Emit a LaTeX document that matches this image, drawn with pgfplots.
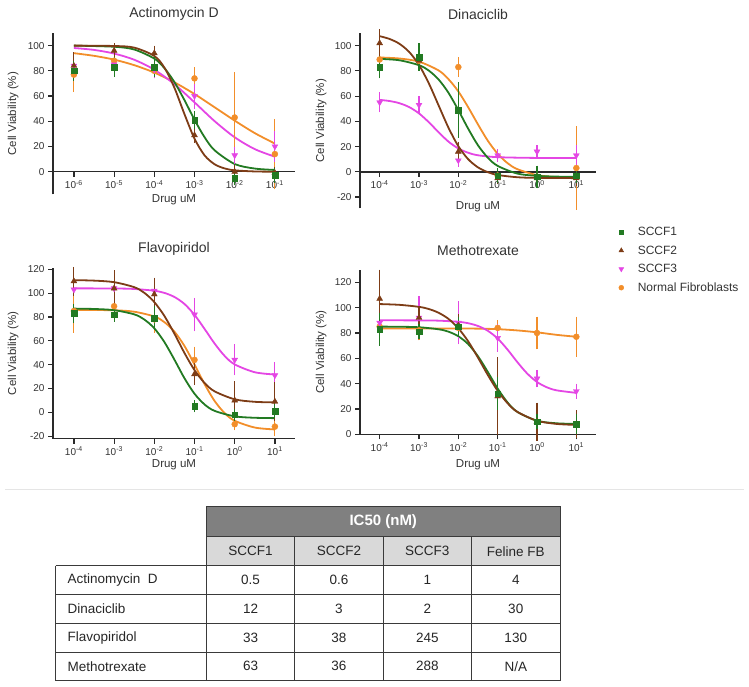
\documentclass[border=0pt]{standalone}
\usepackage{pgfplots}
\pgfplotsset{compat=1.18}
\usepackage{fontspec}
\setmainfont{Liberation Sans}
\setsansfont{Liberation Sans}
\definecolor{txt}{HTML}{333333}
\definecolor{axc}{HTML}{2A2A2A}
\definecolor{cA}{RGB}{34,122,34}
\definecolor{cB}{RGB}{125,60,22}
\definecolor{cC}{RGB}{228,70,228}
\definecolor{cD}{RGB}{242,142,42}
\definecolor{hdrdark}{HTML}{808080}
\definecolor{hdrlight}{HTML}{D9D9D9}
\definecolor{tline}{HTML}{3A3A3A}
\pgfkeys{/pgf/number format/assume math mode=true}
\pgfplotsset{
  every axis/.append style={
    scale only axis, clip=false,
    xminorticks=false,
    axis line style={line width=1.4pt, draw=axc},
    tick style={line width=1.2pt, draw=axc},
    major tick length=5pt,
    tick align=outside,
    tick label style={font=\fontsize{10}{12}\selectfont, text=txt},
    title style={font=\fontsize{14}{16}\selectfont, text=txt, at={(0.5,1)}, anchor=center, yshift=13pt},
    label style={font=\fontsize{11.5}{13}\selectfont, text=txt},
    ylabel style={at={(axis description cs:-0.165,0.5)}, anchor=center},
  },
}
\begin{document}
\begin{tikzpicture}[x=1pt,y=1pt]
\useasboundingbox (0,0) rectangle (749,-686);

% ---------------- Actinomycin D ----------------
\begin{axis}[at={(53pt,-194.4pt)}, anchor=south west,
  width=242pt, height=161.4pt, xmode=log,
  xmin=3.02e-7, xmax=0.3162, ymin=-18, ymax=110,
  axis x line*=middle, axis y line*=left,
  xtick={1e-6,1e-5,1e-4,1e-3,1e-2,1e-1},
  xticklabels={10\textsuperscript{-6},10\textsuperscript{-5},10\textsuperscript{-4},10\textsuperscript{-3},10\textsuperscript{-2},10\textsuperscript{-1}},
  ytick={0,20,40,60,80,100},
  xlabel={Drug uM}, ylabel={Cell Viability (\%)},
  xlabel style={at={(axis description cs:0.5,-0.035)}, anchor=center},
  title={Actinomycin D}]
\addplot[cD, line width=1.8pt, smooth, no marks, forget plot] coordinates {(1e-6,94.0) (3.162e-6,91.9) (1e-5,88.9) (3.162e-5,84.5) (1e-4,78.6) (3.162e-4,70.9) (1e-3,61.6) (3.162e-3,51.1) (1e-2,40.5) (3.162e-2,30.6) (1e-1,22.3)};
\addplot[cC, line width=1.8pt, smooth, no marks, forget plot] coordinates {(1e-6,98.1) (3.162e-6,96.6) (1e-5,93.7) (3.162e-5,88.8) (1e-4,80.9) (3.162e-4,69.4) (1e-3,55.0) (3.162e-3,40.1) (1e-2,27.3) (3.162e-2,17.9) (1e-1,11.9)};
\addplot[cA, line width=1.8pt, smooth, no marks, forget plot] coordinates {(1e-6,100) (1e-5,99.1) (3.162e-5,96.9) (1e-4,89.7) (1.778e-4,82.2) (3.162e-4,71.1) (5.623e-4,56.8) (1e-3,41.2) (1.778e-3,27.4) (3.162e-3,17.0) (1e-2,6.1) (3.162e-2,2.5) (1e-1,1.4)};
\addplot[cB, line width=1.8pt, smooth, no marks, forget plot] coordinates {(1e-6,100) (1e-5,99.7) (3.162e-5,98.4) (1e-4,91.8) (1.778e-4,82.6) (3.162e-4,66.6) (5.623e-4,45.7) (1e-3,26.2) (1.778e-3,13.0) (3.162e-3,5.9) (5.623e-3,2.6) (1e-2,1.1) (3.162e-2,0.2) (1e-1,0.0)};
\addplot[cD, only marks, mark=*, mark size=3pt, forget plot, error bars/.cd, y dir=both, y explicit, error bar style={line width=1.1pt}, error mark options={line width=1.1pt, mark size=3.7pt}] coordinates {(1e-6,77) +- (0,11) (1e-5,88) +- (0,3) (1e-4,80) +- (0,3) (1e-3,74) +- (0,6) (1e-2,43) +- (0,33) (1e-1,14) +- (0,25)};
\addplot[cC, only marks, mark=triangle*, mark size=3.4pt, mark options={rotate=180}, forget plot, error bars/.cd, y dir=both, y explicit, error bar style={line width=1.1pt}, error mark options={line width=1.1pt, mark size=3.7pt}] coordinates {(1e-6,84) +- (0,4) (1e-5,85) +- (0,3) (1e-4,81) +- (0,4) (1e-3,60) +- (0,7) (1e-2,13) +- (0,4) (1e-1,20) +- (0,9)};
\addplot[cB, only marks, mark=triangle*, mark size=3.4pt, forget plot, error bars/.cd, y dir=both, y explicit, error bar style={line width=1.1pt}, error mark options={line width=1.1pt, mark size=3.7pt}] coordinates {(1e-6,84) +- (0,8) (1e-5,96) +- (0,3) (1e-4,94) +- (0,3) (1e-3,29) +- (0,3) (1e-2,0) +- (0,2) (1e-1,-1) +- (0,2)};
\addplot[cA, only marks, mark=square*, mark size=2.8pt, forget plot, error bars/.cd, y dir=both, y explicit, error bar style={line width=1.1pt}, error mark options={line width=1.1pt, mark size=3.7pt}] coordinates {(1e-6,80) +- (0,5) (1e-5,83) +- (0,5) (1e-4,83) +- (0,5) (1e-3,41) +- (0,4) (1e-2,-5) +- (0,3) (1e-1,-3) +- (0,3)};
\end{axis}

% ---------------- Dinaciclib ----------------
\begin{axis}[at={(360pt,-208.4pt)}, anchor=south west,
  width=236pt, height=175.4pt, xmode=log,
  xmin=3.162e-5, xmax=31.62, ymin=-29, ymax=110,
  axis x line*=middle, axis y line*=left,
  xtick={1e-4,1e-3,1e-2,1e-1,1,10},
  xticklabels={10\textsuperscript{-4},10\textsuperscript{-3},10\textsuperscript{-2},10\textsuperscript{-1},10\textsuperscript{0},10\textsuperscript{1}},
  ytick={-20,0,20,40,60,80,100},
  xlabel={Drug uM}, ylabel={Cell Viability (\%)},
  xlabel style={at={(axis description cs:0.5,0.0097)}, anchor=center},
  title={Dinaciclib},
  legend style={at={(axis description cs:1.083,-0.083)}, anchor=north west, draw=none, fill=none,
    font=\fontsize{12}{14}\selectfont, text=txt, row sep=4.6pt,
    /tikz/every odd column/.append style={column sep=12pt}},
  legend cell align=left]
\addlegendimage{only marks, cA, mark=square*, mark size=2.4pt}
\addlegendentry{SCCF1}
\addlegendimage{only marks, cB, mark=triangle*, mark size=2.8pt}
\addlegendentry{SCCF2}
\addlegendimage{only marks, cC, mark=triangle*, mark options={rotate=180}, mark size=2.8pt}
\addlegendentry{SCCF3}
\addlegendimage{only marks, cD, mark=*, mark size=2.5pt}
\addlegendentry{Normal Fibroblasts}
\addplot[cD, line width=1.8pt, smooth, no marks, forget plot] coordinates {(1e-4,90.6) (3.162e-4,89.8) (1e-3,87.3) (3.162e-3,80.3) (5.623e-3,73.4) (1e-2,63.7) (1.778e-2,51.2) (3.162e-2,37.5) (5.623e-2,24.6) (1e-1,14.3) (0.1778,6.9) (0.3162,2.1) (1,-2.6) (3.162,-4.2) (10,-4.8)};
\addplot[cC, line width=1.8pt, smooth, no marks, forget plot] coordinates {(1e-4,57.0) (1.778e-4,56.1) (3.162e-4,54.4) (5.623e-4,51.3) (1e-3,46.3) (1.778e-3,39.3) (3.162e-3,31.3) (5.623e-3,23.9) (1e-2,18.5) (1.778e-2,15.1) (3.162e-2,13.1) (1e-1,11.6) (1,11.0) (10,11.0)};
\addplot[cA, line width=1.8pt, smooth, no marks, forget plot] coordinates {(1e-4,89.5) (3.162e-4,88.4) (1e-3,84.5) (1.778e-3,80.2) (3.162e-3,73.1) (5.623e-3,62.6) (1e-2,48.9) (1.778e-2,34.2) (3.162e-2,21.0) (5.623e-2,11.2) (1e-1,4.7) (0.3162,-1.4) (1,-3.2) (3.162,-3.8) (10,-3.9)};
\addplot[cB, line width=1.8pt, smooth, no marks, forget plot] coordinates {(1e-4,107.5) (1.778e-4,105.3) (3.162e-4,101.5) (5.623e-4,95.0) (1e-3,84.7) (1.778e-3,70.1) (3.162e-3,52.5) (5.623e-3,34.9) (1e-2,20.3) (1.778e-2,10.0) (3.162e-2,3.5) (5.623e-2,-0.3) (1e-1,-2.5) (0.3162,-4.3) (1,-4.8) (10,-5.0)};
\addplot[cD, only marks, mark=*, mark size=3pt, forget plot, error bars/.cd, y dir=both, y explicit, error bar style={line width=1.1pt}, error mark options={line width=1.1pt, mark size=3.7pt}] coordinates {(1e-4,89) +- (0,3) (1e-3,88) +- (0,3) (1e-2,83) +- (0,5) (1e-1,-3) +- (0,2) (1,-4) +- (0,2) (10,3) +- (0,30)};
\addplot[cC, only marks, mark=triangle*, mark size=3.4pt, mark options={rotate=180}, forget plot, error bars/.cd, y dir=both, y explicit, error bar style={line width=1.1pt}, error mark options={line width=1.1pt, mark size=3.7pt}] coordinates {(1e-4,55) +- (0,5) (1e-3,53) +- (0,4) (1e-2,9) +- (0,2) (1e-1,13) +- (0,2) (1,16) +- (0,2) (10,13) +- (0,5)};
\addplot[cB, only marks, mark=triangle*, mark size=3.4pt, forget plot, error bars/.cd, y dir=both, y explicit, error bar style={line width=1.1pt}, error mark options={line width=1.1pt, mark size=3.7pt}] coordinates {(1e-4,102) +- (0,8) (1e-3,88) +- (0,3) (1e-2,16) +- (0,5) (1e-1,-5) +- (0,2) (1,-5) +- (0,3) (10,-5) +- (0,3)};
\addplot[cA, only marks, mark=square*, mark size=2.8pt, forget plot, error bars/.cd, y dir=both, y explicit, error bar style={line width=1.1pt}, error mark options={line width=1.1pt, mark size=3.7pt}] coordinates {(1e-4,83) +- (0,6) (1e-3,91) +- (0,8) (1e-2,49) +- (0,19) (1e-1,-3) +- (0,3) (1,-4) +- (0,6) (10,-3) +- (0,3)};
\end{axis}

% ---------------- Flavopiridol ----------------
\begin{axis}[at={(53pt,-438.5pt)}, anchor=south west,
  width=242pt, height=170.4pt, xmode=log,
  xmin=3.02e-5, xmax=31.62, ymin=-22, ymax=121,
  axis lines*=left,
  xtick={1e-4,1e-3,1e-2,1e-1,1,10},
  xticklabels={10\textsuperscript{-4},10\textsuperscript{-3},10\textsuperscript{-2},10\textsuperscript{-1},10\textsuperscript{0},10\textsuperscript{1}},
  ytick={-20,0,20,40,60,80,100,120},
  xlabel={Drug uM}, ylabel={Cell Viability (\%)},
  xlabel style={at={(axis description cs:0.5,-0.156)}, anchor=center},
  title={Flavopiridol}]
\addplot[cD, line width=1.8pt, smooth, no marks, forget plot] coordinates {(1e-4,86) (1e-3,85.6) (3.162e-3,84.4) (1e-2,80.4) (1.778e-2,75.7) (3.162e-2,67.7) (5.623e-2,55.7) (1e-1,40.1) (0.1778,23.7) (0.3162,9.5) (0.5623,-0.7) (1,-7.1) (3.162,-12.8) (10,-14.4)};
\addplot[cC, line width=1.8pt, smooth, no marks, forget plot] coordinates {(1e-4,104) (1e-3,103.9) (3.162e-3,103.5) (1e-2,102.0) (1.778e-2,100.2) (3.162e-2,96.8) (5.623e-2,90.9) (1e-1,81.8) (0.1778,70.0) (0.3162,57.7) (0.5623,47.3) (1,40.2) (3.162,33.6) (10,31.7)};
\addplot[cA, line width=1.8pt, smooth, no marks, forget plot] coordinates {(1e-4,87) (3.162e-4,86.7) (1e-3,85.7) (3.162e-3,82.2) (5.623e-3,77.9) (1e-2,70.5) (1.778e-2,59.0) (3.162e-2,44.2) (5.623e-2,28.6) (1e-1,15.6) (0.1778,6.6) (0.3162,1.2) (1,-3.4) (3.162,-4.6) (10,-4.9)};
\addplot[cB, line width=1.8pt, smooth, no marks, forget plot] coordinates {(1e-4,110.9) (3.162e-4,110.5) (1e-3,109.2) (3.162e-3,105.0) (5.623e-3,100.3) (1e-2,92.5) (1.778e-2,80.9) (3.162e-2,66.0) (5.623e-2,49.8) (1e-1,35.4) (0.1778,24.6) (0.3162,17.6) (1,10.9) (3.162,8.8) (10,8.3)};
\addplot[cD, only marks, mark=*, mark size=3pt, forget plot, error bars/.cd, y dir=both, y explicit, error bar style={line width=1.1pt}, error mark options={line width=1.1pt, mark size=3.7pt}] coordinates {(1e-4,85) +- (0,15) (1e-3,89) +- (0,3) (1e-2,78) +- (0,8) (1e-1,44) +- (0,8) (1,-10) +- (0,2) (10,-12) +- (0,5)};
\addplot[cC, only marks, mark=triangle*, mark size=3.4pt, mark options={rotate=180}, forget plot, error bars/.cd, y dir=both, y explicit, error bar style={line width=1.1pt}, error mark options={line width=1.1pt, mark size=3.7pt}] coordinates {(1e-4,103) +- (0,2) (1e-3,104) +- (0,2) (1e-2,102) +- (0,2) (1e-1,82) +- (0,11) (1,44) +- (0,10) (10,31) +- (0,8)};
\addplot[cB, only marks, mark=triangle*, mark size=3.4pt, forget plot, error bars/.cd, y dir=both, y explicit, error bar style={line width=1.1pt}, error mark options={line width=1.1pt, mark size=3.7pt}] coordinates {(1e-4,110) +- (0,9) (1e-3,104) +- (0,12) (1e-2,99) +- (0,11) (1e-1,32) +- (0,6) (1,10) +- (0,13) (10,9) +- (0,13)};
\addplot[cA, only marks, mark=square*, mark size=2.8pt, forget plot, error bars/.cd, y dir=both, y explicit, error bar style={line width=1.1pt}, error mark options={line width=1.1pt, mark size=3.7pt}] coordinates {(1e-4,83) +- (0,5) (1e-3,82) +- (0,3) (1e-2,79) +- (0,7) (1e-1,5) +- (0,2) (1,-2) +- (0,2) (10,1) +- (0,3)};
\end{axis}

% ---------------- Methotrexate ----------------
\begin{axis}[at={(360pt,-434.3pt)}, anchor=south west,
  width=236pt, height=164.7pt, xmode=log,
  xmin=3.162e-5, xmax=31.62, ymin=0, ymax=130,
  axis lines*=left,
  xtick={1e-4,1e-3,1e-2,1e-1,1,10},
  xticklabels={10\textsuperscript{-4},10\textsuperscript{-3},10\textsuperscript{-2},10\textsuperscript{-1},10\textsuperscript{0},10\textsuperscript{1}},
  ytick={0,20,40,60,80,100,120},
  xlabel={Drug uM}, ylabel={Cell Viability (\%)},
  xlabel style={at={(axis description cs:0.5,-0.186)}, anchor=center},
  title={Methotrexate}]
\addplot[cD, line width=1.8pt, smooth, no marks, forget plot] coordinates {(1e-4,83.5) (1e-3,83.5) (1e-2,83.5) (3.162e-2,83.4) (1e-1,83) (0.3162,82) (1,80.5) (3.162,78.5) (10,77)};
\addplot[cC, line width=1.8pt, smooth, no marks, forget plot] coordinates {(1e-4,90) (1e-3,89.9) (3.162e-3,89.7) (1e-2,88.8) (1.778e-2,87.7) (3.162e-2,85.5) (5.623e-2,81.7) (1e-1,75.6) (0.1778,66.9) (0.3162,57.0) (0.5623,48.0) (1,41.3) (1.778,37.1) (3.162,34.7) (10,32.7)};
\addplot[cA, line width=1.8pt, smooth, no marks, forget plot] coordinates {(1e-4,85) (3.162e-4,84.9) (1e-3,84.5) (3.162e-3,82.9) (5.623e-3,81.0) (1e-2,77.4) (1.778e-2,71.2) (3.162e-2,61.6) (5.623e-2,49.2) (1e-1,36.1) (0.1778,25.2) (0.3162,17.7) (1,10.7) (3.162,8.7) (10,8.2)};
\addplot[cB, line width=1.8pt, smooth, no marks, forget plot] coordinates {(1e-4,102.8) (3.162e-4,102.2) (1e-3,100.6) (1.778e-3,98.9) (3.162e-3,95.9) (5.623e-3,91.1) (1e-2,83.7) (1.778e-2,73.4) (3.162e-2,60.5) (5.623e-2,46.8) (1e-1,34.3) (0.1778,24.6) (0.3162,17.7) (1,10.7) (3.162,8.2) (10,7.4)};
\addplot[cD, only marks, mark=*, mark size=3pt, forget plot, error bars/.cd, y dir=both, y explicit, error bar style={line width=1.1pt}, error mark options={line width=1.1pt, mark size=3.7pt}] coordinates {(1e-4,85) +- (0,10) (1e-3,82) +- (0,5) (1e-2,84) +- (0,4) (1e-1,84) +- (0,3) (1,80) +- (0,10) (10,77) +- (0,13)};
\addplot[cC, only marks, mark=triangle*, mark size=3.4pt, mark options={rotate=180}, forget plot, error bars/.cd, y dir=both, y explicit, error bar style={line width=1.1pt}, error mark options={line width=1.1pt, mark size=3.7pt}] coordinates {(1e-4,88) +- (0,8) (1e-3,92) +- (0,14) (1e-2,88) +- (0,14) (1e-1,76) +- (0,8) (1,44) +- (0,4) (10,34) +- (0,3)};
\addplot[cB, only marks, mark=triangle*, mark size=3.4pt, forget plot, error bars/.cd, y dir=both, y explicit, error bar style={line width=1.1pt}, error mark options={line width=1.1pt, mark size=3.7pt}] coordinates {(1e-4,107) +- (0,20) (1e-3,92) +- (0,6) (1e-2,86) +- (0,6) (1e-1,30) +- (0,28) (1,10) +- (0,12) (10,8) +- (0,8)};
\addplot[cA, only marks, mark=square*, mark size=2.8pt, forget plot, error bars/.cd, y dir=both, y explicit, error bar style={line width=1.1pt}, error mark options={line width=1.1pt, mark size=3.7pt}] coordinates {(1e-4,83) +- (0,10) (1e-3,81) +- (0,3) (1e-2,85) +- (0,5) (1e-1,32) +- (0,10) (1,10) +- (0,3) (10,8) +- (0,5)};
\end{axis}

% ---------------- IC50 table ----------------
\draw[black!10, line width=0.8pt] (5,-489) -- (744,-489);
\fill[hdrdark] (206.5,-506) rectangle (560,-536.7);
\fill[hdrlight] (206.5,-536.7) rectangle (560,-565.7);
\begin{scope}[draw=tline, line width=0.9pt]
\draw (206.5,-506) -- (560,-506);
\draw (206.5,-536.7) -- (560,-536.7);
\foreach \yy in {-565.7,-594.3,-623.3,-652,-680.7} { \draw (55.5,\yy) -- (560,\yy); }
\draw (55.5,-565.7) -- (55.5,-680.7);
\draw (206.5,-506) -- (206.5,-680.7);
\draw (560,-506) -- (560,-680.7);
\foreach \xx in {294.7,383.1,471.5} { \draw (\xx,-536.7) -- (\xx,-680.7); }
\end{scope}
\node[text=white, font=\fontsize{15}{17}\selectfont\bfseries] at (383.25,-521.3) {IC50 (nM)};
\begin{scope}[every node/.style={text=black!85, font=\fontsize{13.5}{15}\selectfont}]
\node at (250.6,-551.2) {SCCF1};
\node at (338.9,-551.2) {SCCF2};
\node at (427.3,-551.2) {SCCF3};
\node at (515.75,-551.2) {Feline FB};
\node[anchor=west] at (64,-580) {Actinomycin\ \ D};
\node[anchor=west] at (64,-608.8) {Dinaciclib};
\node[anchor=west] at (64,-637.6) {Flavopiridol};
\node[anchor=west] at (64,-666.3) {Methotrexate};
\node at (250.6,-580) {0.5}; \node at (338.9,-580) {0.6}; \node at (427.3,-580) {1}; \node at (515.75,-580) {4};
\node at (250.6,-608.8) {12}; \node at (338.9,-608.8) {3}; \node at (427.3,-608.8) {2}; \node at (515.75,-608.8) {30};
\node at (250.6,-637.6) {33}; \node at (338.9,-637.6) {38}; \node at (427.3,-637.6) {245}; \node at (515.75,-637.6) {130};
\node at (250.6,-666.3) {63}; \node at (338.9,-666.3) {36}; \node at (427.3,-666.3) {288}; \node at (515.75,-666.3) {N/A};
\end{scope}
\end{tikzpicture}
\end{document}
